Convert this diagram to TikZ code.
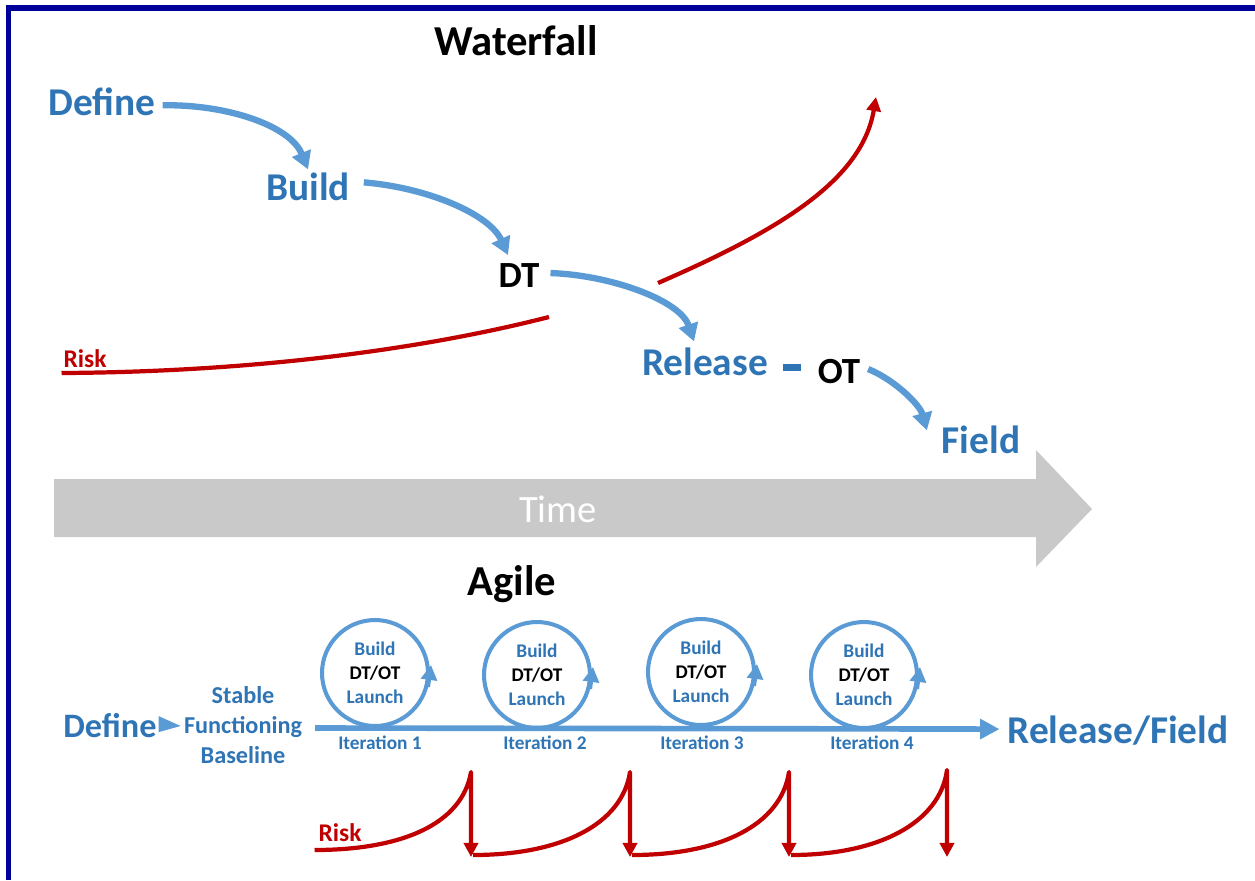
\documentclass[tikz,border=0pt]{standalone}
\usepackage{fontspec}
\setmainfont{Carlito}
\usetikzlibrary{arrows.meta,calc}
\definecolor{tblue}{HTML}{2F75B5}
\definecolor{ablue}{HTML}{5B9BD5}
\definecolor{rred}{HTML}{C00000}
\definecolor{tgray}{HTML}{C9C9C9}
\definecolor{framecol}{HTML}{000099}
\begin{document}
\begin{tikzpicture}[x=0.02cm,y=-0.02cm,
  base/.style={inner sep=0pt, outer sep=0pt, anchor=base},
  titlelbl/.style={base, font=\bfseries\fontsize{24.3}{26}\selectfont, text=black},
  bluelbl/.style={base, font=\bfseries\fontsize{22.4}{24}\selectfont, text=tblue},
  blacklbl/.style={base, font=\bfseries\fontsize{21}{23}\selectfont, text=black},
  risklbl/.style={base, font=\bfseries\fontsize{14.5}{16}\selectfont, text=rred},
  timelbl/.style={base, font=\fontsize{22}{24}\selectfont, text=white},
  stablelbl/.style={inner sep=0pt, align=center, font=\bfseries\fontsize{13.8}{17}\selectfont, text=tblue},
  iterlbl/.style={base, font=\bfseries\fontsize{11}{13}\selectfont, text=tblue},
  itcirc/.style={circle, draw=ablue, line width=2.3pt, minimum size=2.12cm, inner sep=0pt, align=center,
     font=\bfseries\fontsize{11}{13.6}\selectfont, text=black},
  wfarrow/.style={draw=ablue, line width=3.6pt, -{Triangle[length=10pt,width=11pt]}},
  riskline/.style={draw=rred, line width=2.4pt, line join=round},
  riskarrow/.style={riskline, -{Triangle[length=8pt,width=8pt]}},
  circarrow/.style={draw=ablue, line width=2.3pt, -{Triangle[length=8.5pt,width=9pt]}},
  mainline/.style={draw=ablue, line width=3.2pt, -{Triangle[length=11pt,width=11pt]}},
  framel/.style={draw=framecol, line width=3.4pt}
]
\useasboundingbox (0,0) rectangle (1255,880);
\fill[white] (0,0) rectangle (1255,880);
\draw[framel] (8.5,880) -- (8.5,8) -- (1255,8);

% ---------------- Waterfall ----------------
\node[titlelbl] (wtitle) at (516,55) {Waterfall};
\node[bluelbl] (wdefine) at (102,115) {Define};
\node[bluelbl] (wbuild) at (308,200) {Build};
\node[blacklbl] (wdt) at (519,287) {DT};
\node[bluelbl] (wrelease) at (705,375) {Release};
\node[blacklbl] (wot) at (839,383) {OT};
\node[bluelbl] (wfield) at (981,453) {Field};
\node[risklbl] (wrisk) at (85,367) {Risk};

\draw[wfarrow] ($(wdefine.east)+(7,4)$) .. controls (225,104) and (290,125) .. ($(wbuild.north)+(0,-3)$);
\draw[wfarrow] ($(wbuild.east)+(14,-4)$) .. controls (430,188) and (490,215) .. ($(wdt.north)+(-11,-8)$);
\draw[wfarrow] ($(wdt.east)+(11,-2)$) .. controls (610,275) and (680,300) .. ($(wrelease.north)+(-11,-6)$);
\draw[wfarrow] ($(wot.east)+(8,-2)$) .. controls (895,380) and (920,405) .. ($(wfield.north west)+(-15,5)$);
\draw[draw=tblue, line width=4pt] ($(wrelease.east)+(15,6)$) -- ($(wrelease.east)+(33,6)$);

% risk curve (waterfall)
\coordinate (wr1) at (549,317);
\coordinate (wr2) at (658,283);
\coordinate (wrtop) at (876,97);
\draw[riskline] ($(wrisk.base west)+(-2,6)$) .. controls (250,372) and (420,350) .. (wr1);
\draw[riskarrow] (wr2) .. controls (780,230) and (862,180) .. (wrtop);

% ---------------- Time arrow ----------------
\fill[tgray] (54,479) -- (1036,479) -- (1036,450) -- (1092,509) -- (1036,567) -- (1036,537) -- (54,537) -- cycle;
\node[timelbl] (time) at (558,522) {Time};

% ---------------- Agile ----------------
\node[titlelbl] (atitle) at (512,595) {Agile};
\node[base, font=\bfseries\fontsize{19.5}{22}\selectfont, text=tblue] (adefine) at (110,737) {Define};
\node[stablelbl] (stable) at (243,725) {Stable\\Functioning\\Baseline};
\fill[ablue] ($(adefine.east)+(2,-9)$) -- ($(stable.west)+(-3,1)$) -- ($(adefine.east)+(2,7)$) -- cycle;
\node[bluelbl] (arelease) at (1118,743) {Release/Field};
\coordinate (lstart) at (315,728);
\draw[mainline] (lstart) -- ($(arelease.west)+(-8,-1)$);

\node[itcirc] (c1) at (375,673) {\textcolor{tblue}{Build}\\DT/OT\\\textcolor{tblue}{Launch}};
\node[itcirc] (c2) at (537,675) {\textcolor{tblue}{Build}\\DT/OT\\\textcolor{tblue}{Launch}};
\node[itcirc] (c3) at (701,672) {\textcolor{tblue}{Build}\\DT/OT\\\textcolor{tblue}{Launch}};
\node[itcirc] (c4) at (864,675) {\textcolor{tblue}{Build}\\DT/OT\\\textcolor{tblue}{Launch}};
\foreach \c in {c1,c2,c3,c4}{
  \draw[circarrow] ($(\c.center)+(53,14)$) -- ($(\c.center)+(56,-8)$);
}
\node[iterlbl] (it1) at (380,749) {Iteration 1};
\node[iterlbl] (it2) at (545,749) {Iteration 2};
\node[iterlbl] (it3) at (702,749) {Iteration 3};
\node[iterlbl] (it4) at (872,749) {Iteration 4};

% risk sawtooth (agile)
\node[risklbl] (arisk) at (340,841) {Risk};
\coordinate (p1) at (471,772); \coordinate (b1) at (471,857);
\coordinate (p2) at (630,772); \coordinate (b2) at (630,857);
\coordinate (p3) at (789,772); \coordinate (b3) at (789,857);
\coordinate (p4) at (947,770); \coordinate (b4) at (947,857);
\draw[riskarrow] ($(arisk.base west)+(-4,9)$) .. controls (400,850) and (462,825) .. (p1) -- (b1);
\draw[riskarrow] ($(b1)+(2,-2)$) .. controls (560,855) and (622,825) .. (p2) -- (b2);
\draw[riskarrow] ($(b2)+(2,-2)$) .. controls (720,855) and (781,825) .. (p3) -- (b3);
\draw[riskarrow] ($(b3)+(2,-2)$) .. controls (880,855) and (940,822) .. (p4) -- (b4);
\end{tikzpicture}
\end{document}
